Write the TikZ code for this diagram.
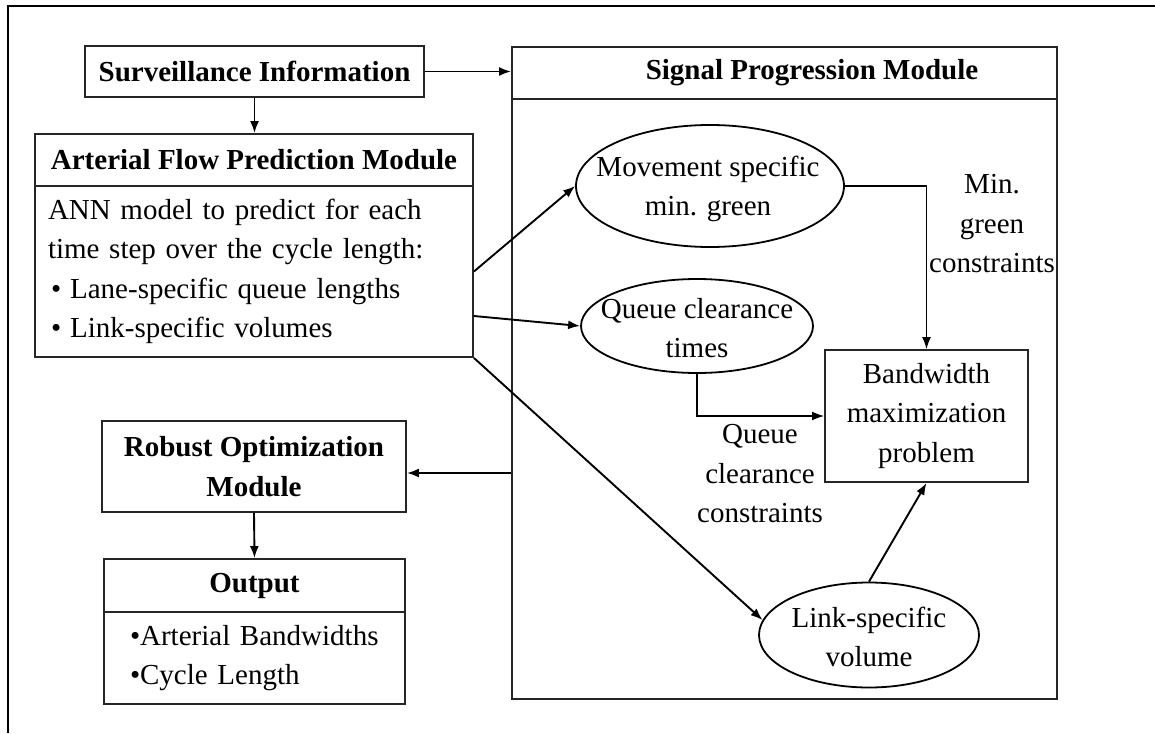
\documentclass[tikz,border=0pt]{standalone}
\usepackage{fontspec}
\setmainfont{Liberation Serif}
\usetikzlibrary{arrows.meta,shapes.geometric}
\begin{document}
\begin{tikzpicture}[x=1pt,y=-1pt,
  every node/.style={font=\fontsize{29}{39.5}\selectfont},
  hd/.style={font=\fontsize{29}{39.5}\selectfont\bfseries},
  box/.style={draw=black!85, line width=1.9pt, rectangle, inner sep=0pt, align=center},
  ell/.style={draw=black, line width=1.8pt, ellipse, inner sep=0pt},
  txt/.style={align=center, inner sep=0pt},
  tip/.style={-{Latex[length=12pt,width=9pt]}},
  arr/.style={tip, line width=1.9pt},
  conn/.style={tip, line width=1.3pt}
]
\useasboundingbox (0,0) rectangle (1155,733);

% outer frame (top and left edges)
\draw[line width=2.2pt] (8,733) -- (8,6) -- (1155,6);

% left column
\node[box, hd, minimum width=339pt, minimum height=51pt] (surv) at (254.5,71.5) {Surveillance Information};
\node[box, hd, minimum width=438pt, minimum height=52pt] (afpmH) at (254,160) {Arterial Flow Prediction Module};
\node[box, minimum width=438pt, minimum height=171pt, text width=412pt, align=left, inner xsep=13pt] (afpmB) at (254,271.5)
  {ANN model to predict for each\\ time step over the cycle length:\\
   \hspace*{3pt}\textbullet\hspace{9pt}Lane-specific queue lengths\\
   \hspace*{3pt}\textbullet\hspace{9pt}Link-specific volumes};
\node[box, hd, minimum width=304pt, minimum height=91pt] (ro) at (254,466.5) {Robust Optimization\\Module};
\node[box, hd, minimum width=301pt, minimum height=53pt] (outH) at (254.5,585.5) {Output};
\node[box, minimum width=301pt, minimum height=92pt, text width=249pt, align=left, inner xsep=26pt] (outB) at (254.5,658)
  {\textbullet Arterial Bandwidths\\ \textbullet Cycle Length};

% signal progression module
\node[box, minimum width=545pt, minimum height=52pt,
      label={[hd, xshift=27.5pt]center:Signal Progression Module}] (sigH) at (784.5,73) {};
\node[box, minimum width=545pt, minimum height=600pt] (sigB) at (784.5,399) {};

\node[ell, minimum width=268pt, minimum height=122pt] (mg) at (710,186) {};
\node[txt] (mgT) at (708,189) {Movement specific\\min. green};
\node[ell, minimum width=232pt, minimum height=94pt] (qc) at (697,326) {};
\node[txt] (qcT) at (697,328) {Queue clearance\\times};
\node[box, minimum width=203pt, minimum height=132pt] (bw) at (926.5,416) {Bandwidth\\maximization\\problem};
\node[ell, minimum width=220pt, minimum height=105pt] (lv) at (869,635) {};
\node[txt] (lvT) at (869,637) {Link-specific\\volume};

\node[txt] (mgL) at (992,224) {Min.\\green\\constraints};
\node[txt] (qcL) at (760,474) {Queue\\clearance\\constraints};

% connectors
\draw[arr] (surv.east) -- (surv.east -| sigH.west);
\draw[arr] (surv.south) -- (surv.south |- afpmH.north);
\draw[arr] (afpmB.east) -- (mg.west);
\draw[arr] ([yshift=-44.5pt]afpmB.east) -- (qc.west);
\draw[arr] (afpmB.south east) -- (lv.172);
\draw[conn] (mg.east) -| (bw.north);
\draw[conn] (qc.south) |- (bw.west);
\draw[arr] (lv.north) -- (bw.south);
\coordinate (roIn) at ([yshift=-6.5pt]ro.east);
\draw[arr] (roIn -| sigB.west) -- (roIn);
\draw[arr] (ro.south) -- (outH.north);
\end{tikzpicture}
\end{document}
